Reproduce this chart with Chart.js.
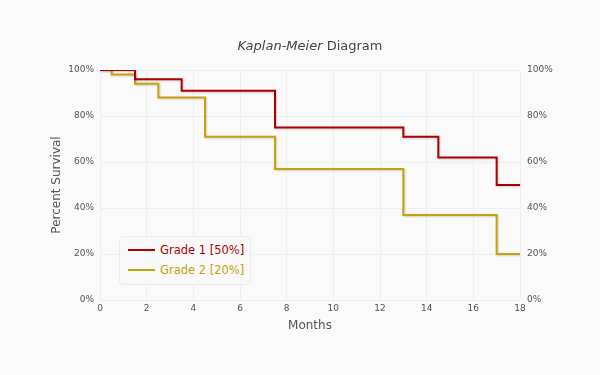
<!DOCTYPE html>
<html>
<head>
<meta charset="utf-8">
<script src="https://cdn.jsdelivr.net/npm/chart.js@4"></script>
<style>
  html, body { margin: 0; padding: 0; background: #fafafa; }
  #wrap { position: relative; width: 600px; height: 375px; font-family: "DejaVu Sans", Verdana, sans-serif; }
  #title { position: absolute; left: 100px; top: 38px; width: 420px; text-align: center; font-size: 13px; color: #444; }
  #legend { position: absolute; left: 119px; top: 236px; width: 132px; height: 49px; box-sizing: border-box;
            border: 1px solid #ececec; border-radius: 4px; background: #f9f9f9; font-size: 11.5px; }
  #legend div { position: absolute; left: 8px; height: 16px; line-height: 16px; white-space: nowrap; }
  #legend span.ln { display: inline-block; width: 27px; height: 2px; vertical-align: middle; margin-right: 5px; position: relative; top: -1px; }
</style>
</head>
<body>
<div id="wrap">
  <canvas id="kmChart" width="600" height="375"></canvas>
  <div id="title"><i>Kaplan-Meier</i> Diagram</div>
  <div id="legend"></div>
</div>
<script>
// Data
const seriesLabels = ['Grade 1 [50%]', 'Grade 2 [20%]'];
const seriesColors = ['#ac0000', '#c8a20a'];
const months1 = [0, 1.5, 3.5, 7.5, 13, 14.5, 17, 18];
const survival1 = [100, 96, 91, 75, 71, 62, 50, 50];
const months2 = [0, 0.5, 1.5, 2.5, 4.5, 7.5, 13, 17, 18];
const survival2 = [100, 98, 94, 88, 71, 57, 37, 20, 20];
const xTicks = [0, 2, 4, 6, 8, 10, 12, 14, 16, 18];
const yTicks = [0, 20, 40, 60, 80, 100];

function toPoints(xs, ys) {
    return xs.map((x, i) => ({ x: x, y: ys[i] }));
}

// soft drop shadow under the lines
const lineShadow = {
    id: 'lineShadow',
    beforeDatasetDraw(chart) {
        const ctx = chart.ctx;
        ctx.save();
        ctx.shadowColor = 'rgba(0,0,0,0.18)';
        ctx.shadowBlur = 2;
        ctx.shadowOffsetX = 1;
        ctx.shadowOffsetY = 1;
    },
    afterDatasetDraw(chart) {
        chart.ctx.restore();
    }
};

const tickFont = { family: 'DejaVu Sans', size: 9 };
const axisTitleFont = { family: 'DejaVu Sans', size: 12 };
const gridColor = '#efefef';

new Chart(document.getElementById('kmChart'), {
    type: 'line',
    data: {
        datasets: [
            {
                label: seriesLabels[0],
                data: toPoints(months1, survival1),
                borderColor: seriesColors[0],
                borderWidth: 2,
                stepped: 'before',
                pointRadius: 0,
                fill: false
            },
            {
                label: seriesLabels[1],
                data: toPoints(months2, survival2),
                borderColor: seriesColors[1],
                borderWidth: 2,
                stepped: 'before',
                pointRadius: 0,
                fill: false
            }
        ]
    },
    plugins: [lineShadow],
    options: {
        responsive: false,
        animation: false,
        layout: { padding: { top: 70, left: 50, right: 0, bottom: 42 } },
        plugins: {
            legend: { display: false },
            title: { display: false },
            tooltip: { enabled: false }
        },
        scales: {
            x: {
                type: 'linear',
                min: 0,
                max: 18,
                afterBuildTicks: (s) => { s.ticks = xTicks.map(v => ({ value: v })); },
                afterFit: (s) => { s.height = 33; },
                grid: { color: gridColor, drawTicks: false },
                border: { display: false },
                ticks: { font: tickFont, color: '#555', padding: 3, maxRotation: 0 },
                title: { display: true, text: 'Months', font: axisTitleFont, color: '#555', padding: 0 }
            },
            y: {
                position: 'left',
                min: 0,
                max: 100,
                afterBuildTicks: (s) => { s.ticks = yTicks.map(v => ({ value: v })); },
                afterFit: (s) => { s.width = 50; },
                grid: { color: gridColor, drawTicks: false },
                border: { display: false },
                ticks: { font: tickFont, color: '#555', padding: 6, callback: v => v + '%' },
                title: { display: true, text: 'Percent Survival', font: axisTitleFont, color: '#555', padding: 0 }
            },
            y2: {
                position: 'right',
                min: 0,
                max: 100,
                afterBuildTicks: (s) => { s.ticks = yTicks.map(v => ({ value: v })); },
                afterFit: (s) => { s.width = 80; },
                grid: { display: false, drawTicks: false },
                border: { display: false },
                ticks: { font: tickFont, color: '#555', padding: 7, callback: v => v + '%' }
            }
        }
    }
});

// legend box inside the plot
const legendEl = document.getElementById('legend');
seriesLabels.forEach((lbl, i) => {
    const row = document.createElement('div');
    row.style.top = (5 + i * 20) + 'px';
    row.style.color = seriesColors[i];
    row.innerHTML = '<span class="ln" style="background:' + seriesColors[i] + '"></span>' + lbl;
    legendEl.appendChild(row);
});
</script>
</body>
</html>
